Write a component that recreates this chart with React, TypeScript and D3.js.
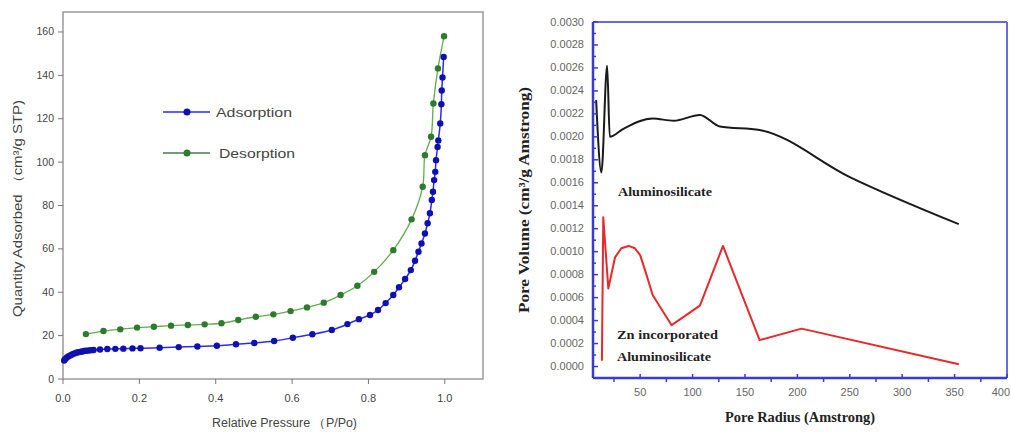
import React from "react";
import * as d3 from "d3";

// ---------- Left chart data (N2 isotherm) ----------
const adsP = [0.003, 0.006, 0.01, 0.015, 0.02, 0.025, 0.03, 0.035, 0.04, 0.045, 0.05, 0.055, 0.06, 0.065, 0.07, 0.075, 0.08, 0.097, 0.116, 0.137, 0.158, 0.182, 0.203, 0.253, 0.303, 0.352, 0.403, 0.453, 0.501, 0.553, 0.602, 0.653, 0.704, 0.745, 0.775, 0.804, 0.825, 0.845, 0.865, 0.88, 0.896, 0.911, 0.922, 0.931, 0.939, 0.948, 0.955, 0.961, 0.966, 0.969, 0.972, 0.975, 0.977, 0.981, 0.983, 0.988, 0.991, 0.992, 0.994, 0.997];
const adsQ = [8.5, 9.2, 9.9, 10.5, 11.0, 11.4, 11.8, 12.1, 12.3, 12.5, 12.7, 12.9, 13.0, 13.1, 13.2, 13.3, 13.4, 13.6, 13.8, 13.9, 14.0, 14.1, 14.2, 14.4, 14.7, 15.0, 15.3, 16.0, 16.6, 17.5, 19.0, 20.6, 22.6, 25.3, 27.6, 29.5, 31.8, 35.0, 38.7, 42.3, 46.1, 50.2, 54.5, 58.7, 62.5, 67.1, 71.8, 76.4, 82.5, 86.3, 91.7, 95.5, 100.9, 107, 110, 117.8, 126.7, 133, 139, 148.5];
const desP = [0.06, 0.106, 0.15, 0.194, 0.238, 0.283, 0.327, 0.371, 0.415, 0.459, 0.505, 0.551, 0.596, 0.639, 0.683, 0.727, 0.771, 0.815, 0.865, 0.913, 0.942, 0.948, 0.964, 0.97, 0.982, 0.998];
const desQ = [20.7, 22.1, 22.9, 23.7, 24.1, 24.6, 24.9, 25.2, 25.7, 27.2, 28.7, 29.8, 31.3, 33.0, 35.2, 38.7, 43.0, 49.4, 59.4, 73.6, 88.6, 103.2, 111.7, 127, 143.2, 158];
const leftXTicks = [0, 0.2, 0.4, 0.6, 0.8, 1.0];
const leftYTicks = [0, 20, 40, 60, 80, 100, 120, 140, 160];
const legendLabels = ["Adsorption", "Desorption"];

// ---------- Right chart data (pore size distribution) ----------
const alumR = [8, 13, 18.5, 21, 34, 62, 82, 107, 126, 164, 250, 354];
const alumV = [0.00232, 0.00169, 0.00262, 0.002, 0.00207, 0.00216, 0.00214, 0.00219, 0.00209, 0.00206, 0.00165, 0.00124];
const znR = [13.5, 14.8, 19.6, 26, 32, 39, 45, 50, 56, 62, 80, 107, 129, 164, 204, 354];
const znV = [0.00005, 0.0013, 0.00068, 0.00095, 0.00103, 0.00105, 0.00103, 0.00097, 0.0008, 0.00062, 0.00036, 0.00053, 0.00105, 0.00023, 0.00033, 0.00002];
const rightXTicks = [50, 100, 150, 200, 250, 300, 350, 400];
const rightXMinor = [25, 75, 125, 175, 225, 275, 325, 375];
const rightYTicks = [0, 0.0002, 0.0004, 0.0006, 0.0008, 0.001, 0.0012, 0.0014, 0.0016, 0.0018, 0.002, 0.0022, 0.0024, 0.0026, 0.0028, 0.003];
const rightYMinor = [0.0001, 0.0003, 0.0005, 0.0007, 0.0009, 0.0011, 0.0013, 0.0015, 0.0017, 0.0019, 0.0021, 0.0023, 0.0025, 0.0027, 0.0029];

export default function App() {
  // left scales
  const lx = d3.scaleLinear().domain([0, 1.1]).range([63, 483]);
  const ly = d3.scaleLinear().domain([0, 169.2]).range([379, 12]);
  const lline = d3.line<number>().curve(d3.curveCatmullRom);
  const adsPts: [number, number][] = adsP.map((p, i) => [lx(p), ly(adsQ[i])]);
  const desPts: [number, number][] = desP.map((p, i) => [lx(p), ly(desQ[i])]);

  // right scales
  const rx = d3.scaleLinear().domain([5, 400]).range([593, 1007]);
  const ry = d3.scaleLinear().domain([-0.0001, 0.003]).range([378, 22]);
  const blackLine = d3.line<number>().curve(d3.curveMonotoneX);
  const redLine = d3.line<number>().curve(d3.curveLinear);
  const alumPts: [number, number][] = alumR.map((r, i) => [rx(r), ry(alumV[i])]);
  const znPts: [number, number][] = znR.map((r, i) => [rx(r), ry(znV[i])]);
  const fmt = d3.format(".4f");

  const sans = "Arial, 'Liberation Sans', sans-serif";
  const serif = "'Times New Roman', 'Liberation Serif', serif";
  const blueAxis = "#3a3ad6";

  return (
    <svg width={1011} height={432} style={{ position: "absolute", left: 0, top: 0, background: "#fff" }}>
      <rect x={0} y={0} width={1011} height={432} fill="#fff" />
      {/* ===== Left chart ===== */}
      <rect x={63} y={12} width={420} height={367} fill="none" stroke="#9a9a9a" strokeWidth={1.5} />
      {leftXTicks.map((t) => (
        <g key={"lx" + t}>
          <line x1={lx(t)} x2={lx(t)} y1={379} y2={384} stroke="#777" strokeWidth={1} />
          <text x={lx(t)} y={402} textAnchor="middle" fontFamily={sans} fontSize={11} fill="#444">{t.toFixed(1)}</text>
        </g>
      ))}
      {leftYTicks.map((t) => (
        <g key={"ly" + t}>
          <line x1={58} x2={63} y1={ly(t)} y2={ly(t)} stroke="#777" strokeWidth={1} />
          <text x={54} y={ly(t) + 3.5} textAnchor="end" fontFamily={sans} fontSize={10.5} fill="#444">{t}</text>
        </g>
      ))}
      <text x={212} y={427} textLength={145} lengthAdjust="spacingAndGlyphs" fontFamily={sans} fontSize={12} fill="#444">Relative Pressure （P/Po)</text>
      <text transform="translate(22,317) rotate(-90)" textLength={217} lengthAdjust="spacingAndGlyphs" fontFamily={sans} fontSize={12} fill="#444">Quantity Adsorbed （cm³/g STP)</text>

      <path d={lline(desPts as any) || ""} fill="none" stroke="#5fae4a" strokeWidth={1.3} />
      {desPts.map((p, i) => (
        <circle key={"d" + i} cx={p[0]} cy={p[1]} r={3.2} fill="#2e7a2e" />
      ))}
      <path d={lline(adsPts as any) || ""} fill="none" stroke="#2a2aff" strokeWidth={1.5} />
      {adsPts.map((p, i) => (
        <circle key={"a" + i} cx={p[0]} cy={p[1]} r={3.2} fill="#1010b0" />
      ))}

      {/* legend */}
      {legendLabels.map((lab, i) => {
        const y = 112 + i * 41;
        const lineC = i === 0 ? "#2a2aff" : "#4a7a4a";
        const dotC = i === 0 ? "#1010b0" : "#2e7a2e";
        return (
          <g key={lab}>
            <line x1={163} x2={210} y1={y} y2={y} stroke={lineC} strokeWidth={1.5} />
            <circle cx={187} cy={y} r={3.5} fill={dotC} />
            <text x={216 + i * 3} y={y + 4.5} textLength={76} lengthAdjust="spacingAndGlyphs" fontFamily={sans} fontSize={13} fill="#444">{lab}</text>
          </g>
        );
      })}

      {/* ===== Right chart ===== */}
      <path d={blackLine(alumPts as any) || ""} fill="none" stroke="#1a1a1a" strokeWidth={2} strokeLinejoin="round" />
      <path d={redLine(znPts as any) || ""} fill="none" stroke="#e62a2a" strokeWidth={2} strokeLinejoin="round" />

      <line x1={593} x2={1007} y1={22} y2={22} stroke="#6a6ae0" strokeWidth={2} />
      <line x1={1007} x2={1007} y1={22} y2={378} stroke="#6a6ae0" strokeWidth={2} />
      <line x1={593} x2={593} y1={22} y2={378} stroke={blueAxis} strokeWidth={2.5} />
      <line x1={593} x2={1007} y1={378} y2={378} stroke={blueAxis} strokeWidth={2.5} />

      {rightYTicks.map((t) => (
        <g key={"ry" + t}>
          <line x1={593} x2={598} y1={ry(t)} y2={ry(t)} stroke={blueAxis} strokeWidth={1.5} />
          <text x={584} y={ry(t) + 3.5} textAnchor="end" fontFamily={sans} fontSize={11} fill="#666">{fmt(t)}</text>
        </g>
      ))}
      {rightYMinor.map((t) => (
        <line key={"rym" + t} x1={593} x2={596} y1={ry(t)} y2={ry(t)} stroke={blueAxis} strokeWidth={1.5} />
      ))}
      {rightXTicks.map((t) => (
        <g key={"rx" + t}>
          <line x1={rx(t)} x2={rx(t)} y1={378} y2={374} stroke={blueAxis} strokeWidth={1.5} />
          <text x={t === 400 ? 1010 : rx(t)} y={396} textAnchor={t === 400 ? "end" : "middle"} fontFamily={sans} fontSize={11} fill="#666">{t}</text>
        </g>
      ))}
      {rightXMinor.map((t) => (
        <line key={"rxm" + t} x1={rx(t)} x2={rx(t)} y1={378} y2={382} stroke={blueAxis} strokeWidth={1.5} />
      ))}

      <text x={725} y={422} textLength={150} lengthAdjust="spacingAndGlyphs" fontFamily={serif} fontWeight="bold" fontSize={14} fill="#222">Pore Radius (Amstrong)</text>
      <text transform="translate(529,313) rotate(-90)" textLength={226} lengthAdjust="spacingAndGlyphs" fontFamily={serif} fontWeight="bold" fontSize={15} fill="#222">Pore Volume (cm³/g Amstrong)</text>

      <text x={618} y={196} textLength={94} lengthAdjust="spacingAndGlyphs" fontFamily={serif} fontWeight="bold" fontSize={13} fill="#222">Aluminosilicate</text>
      <text x={617} y={339} textLength={101} lengthAdjust="spacingAndGlyphs" fontFamily={serif} fontWeight="bold" fontSize={13} fill="#222">Zn incorporated</text>
      <text x={617} y={361} textLength={94} lengthAdjust="spacingAndGlyphs" fontFamily={serif} fontWeight="bold" fontSize={13} fill="#222">Aluminosilicate</text>
    </svg>
  );
}
